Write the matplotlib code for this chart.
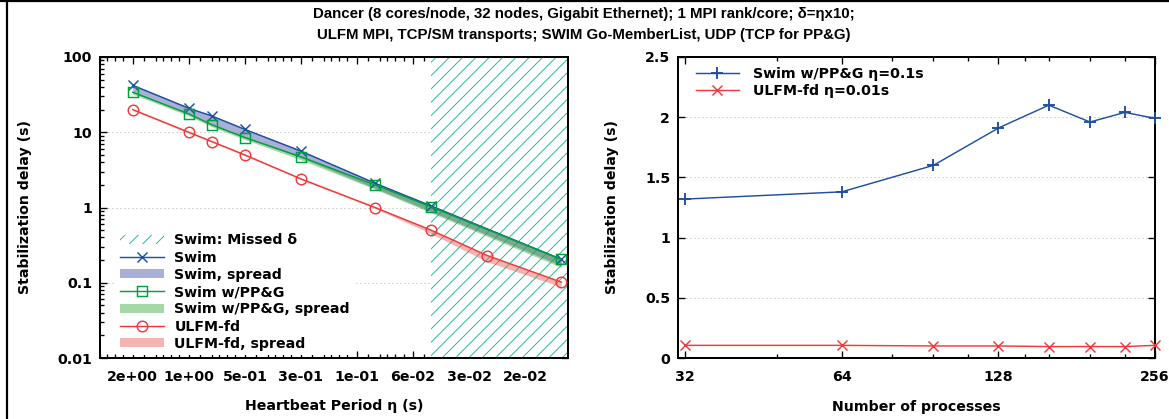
import matplotlib
matplotlib.use("Agg")
import matplotlib.pyplot as plt
from matplotlib.lines import Line2D
from matplotlib.patches import Patch
from matplotlib.ticker import FixedLocator, FuncFormatter, NullFormatter

# ---------------- data ----------------
title_line1 = "Dancer (8 cores/node, 32 nodes, Gigabit Ethernet); 1 MPI rank/core; δ=ηx10;"
title_line2 = "ULFM MPI, TCP/SM transports; SWIM Go-MemberList, UDP (TCP for PP&G)"

eta_swim = [2, 1, 0.75, 0.5, 0.25, 0.1, 0.05, 0.01]
swim = [42, 20.8, 16.4, 10.9, 5.6, 2.1, 1.05, 0.205]
swim_lo = [34, 17.5, 12.8, 8.6, 4.6, 1.8, 0.88, 0.17]
swim_hi = [43, 21.5, 16.8, 11.2, 5.8, 2.15, 1.07, 0.21]

ppg = [34, 17.5, 12.5, 8.5, 4.7, 2.0, 1.02, 0.205]
ppg_lo = [32, 16.5, 11.8, 8.0, 4.3, 1.75, 0.85, 0.16]
ppg_hi = [35, 18, 13, 8.8, 4.9, 2.05, 1.05, 0.21]

eta_ulfm = [2, 1, 0.75, 0.5, 0.25, 0.1, 0.05, 0.025, 0.01]
ulfm = [20, 10, 7.5, 5, 2.4, 1.0, 0.5, 0.23, 0.102]
ulfm_lo = [19.5, 9.7, 7.3, 4.85, 2.35, 0.97, 0.45, 0.19, 0.088]
ulfm_hi = [20.3, 10.2, 7.6, 5.05, 2.45, 1.02, 0.51, 0.235, 0.104]

missed_from = 0.05          # Swim misses delta for eta <= this
eta_ticks = [2, 1, 0.5, 0.25, 0.125, 0.0625, 0.03125, 0.015625]
eta_tick_labels = ["2e+00", "1e+00", "5e-01", "3e-01", "1e-01", "6e-02", "3e-02", "2e-02"]
delay_ticks = [0.01, 0.1, 1, 10, 100]

procs = [32, 64, 96, 128, 160, 192, 224, 256]
swim_ppg_p = [1.32, 1.38, 1.60, 1.91, 2.10, 1.96, 2.04, 1.99]
ulfm_p = [0.105, 0.105, 0.10, 0.10, 0.095, 0.095, 0.095, 0.105]
proc_ticks = [32, 64, 128, 256]
proc_minor = [48, 80, 96, 112, 144, 160, 192, 224]
delay_lin_ticks = [0, 0.5, 1, 1.5, 2, 2.5]

# ---------------- style ----------------
DPI = 80
W, H = 1169, 419
FS = 12.7
plt.rcParams['font.family'] = ['DejaVu Sans']
plt.rcParams['font.weight'] = 'bold'
plt.rcParams['font.size'] = FS
plt.rcParams['hatch.linewidth'] = 0.8

BLUE = '#1f4fa0'
GREEN = '#00a040'
RED = '#ee3a3a'
TEAL = '#1fb38a'
GRIDC = '#b0b0b0'

fig = plt.figure(figsize=(W / DPI, H / DPI), dpi=DPI)

def axes_px(l, r, t, b):
    return fig.add_axes([l / W, (H - b) / H, (r - l) / W, (b - t) / H])

ax1 = axes_px(100, 568, 57, 358)
ax2 = axes_px(678, 1155, 57, 358)

def style_axes(ax):
    for s in ax.spines.values():
        s.set_linewidth(1.8)
    ax.tick_params(which='both', direction='in', top=True, right=True, width=1.2, labelsize=FS)
    ax.tick_params(axis='y', pad=7)
    ax.tick_params(axis='x', pad=10.5)
    ax.tick_params(which='major', length=6.5)
    ax.tick_params(which='minor', length=3.5)
    ax.set_axisbelow(True)
    ax.yaxis.grid(True, which='major', linestyle=(0, (1, 3)), color=GRIDC, linewidth=0.9)

# ---------------- left panel ----------------
ax = ax1
ax.set_xscale('log', base=2)
ax.set_yscale('log')
xl = (3.0, 0.0092)
ax.set_xlim(*xl)
ax.set_ylim(0.01, 100)
style_axes(ax)

ax.axvspan(missed_from, xl[1], facecolor='white', edgecolor=TEAL, hatch='//', linewidth=0, zorder=1.5)

ax.fill_between(eta_swim, swim_lo, swim_hi, color='#5560b0', alpha=0.5, linewidth=0, zorder=2)
ax.fill_between(eta_swim, ppg_lo, ppg_hi, color='#3aa83a', alpha=0.45, linewidth=0, zorder=2)
ax.fill_between(eta_ulfm, ulfm_lo, ulfm_hi, color='#ee5555', alpha=0.45, linewidth=0, zorder=2)

ax.plot(eta_swim, swim, color=BLUE, lw=1.3, marker='x', ms=8.5, mew=1.3, zorder=3)
ax.plot(eta_swim, ppg, color=GREEN, lw=1.3, marker='s', ms=9, mfc='none', mew=1.3, zorder=3)
ax.plot(eta_ulfm, ulfm, color=RED, lw=1.3, marker='o', ms=9.5, mfc='none', mew=1.3, zorder=3)

ax.xaxis.set_major_locator(FixedLocator(eta_ticks))
ax.xaxis.set_major_formatter(FuncFormatter(lambda v, p: eta_tick_labels[eta_ticks.index(v)] if v in eta_ticks else ''))
minor_x = [t * f for t in eta_ticks + [4] for f in (0.5625, 0.625, 0.6875, 0.75, 0.875)]
ax.xaxis.set_minor_locator(FixedLocator(minor_x))
ax.xaxis.set_minor_formatter(NullFormatter())
ax.yaxis.set_major_locator(FixedLocator(delay_ticks))
ax.yaxis.set_major_formatter(FuncFormatter(lambda v, p: '%g' % v))

ax.set_xlabel('Heartbeat Period η (s)', fontsize=FS, fontweight='bold')
ax.xaxis.set_label_coords(0.5, -0.135)
ax.set_ylabel('Stabilization delay (s)', fontsize=FS, fontweight='bold')
ax.yaxis.set_label_coords(-(100 - 32) / 468, 0.5)

handles1 = [
    Patch(facecolor='white', edgecolor=TEAL, hatch='//', linewidth=0),
    Line2D([], [], color=BLUE, lw=1.3, marker='x', ms=8.5, mew=1.3),
    Patch(facecolor='#5560b0', alpha=0.5, linewidth=0),
    Line2D([], [], color=GREEN, lw=1.3, marker='s', ms=9, mfc='none', mew=1.3),
    Patch(facecolor='#3aa83a', alpha=0.45, linewidth=0),
    Line2D([], [], color=RED, lw=1.3, marker='o', ms=9.5, mfc='none', mew=1.3),
    Patch(facecolor='#ee5555', alpha=0.45, linewidth=0),
]
labels1 = ['Swim: Missed δ', 'Swim', 'Swim, spread', 'Swim w/PP&G', 'Swim w/PP&G, spread',
           'ULFM-fd', 'ULFM-fd, spread']
leg = ax.legend(handles1, labels1, loc='lower left', bbox_to_anchor=(0.034, 0.01),
                frameon=True, facecolor='white', edgecolor='none', framealpha=1,
                fancybox=False, handlelength=3.1, handleheight=0.6, handletextpad=0.75,
                labelspacing=0.23, borderpad=0.3, borderaxespad=0, fontsize=FS)
leg.set_zorder(5)

# ---------------- right panel ----------------
ax = ax2
ax.set_xscale('log', base=2)
ax.set_xlim(31.0, 256)
ax.set_ylim(0, 2.5)
style_axes(ax)
ax.plot(procs, swim_ppg_p, color=BLUE, lw=1.3, marker='+', ms=11, mew=1.7, clip_on=False, zorder=3,
        label='Swim w/PP&G η=0.1s')
ax.plot(procs, ulfm_p, color=RED, lw=1.3, marker='x', ms=9, mew=1.3, clip_on=False, zorder=3,
        label='ULFM-fd η=0.01s')
ax.xaxis.set_major_locator(FixedLocator(proc_ticks))
ax.xaxis.set_major_formatter(FuncFormatter(lambda v, p: '%d' % v))
ax.xaxis.set_minor_locator(FixedLocator(proc_minor))
ax.xaxis.set_minor_formatter(NullFormatter())
ax.yaxis.set_major_locator(FixedLocator(delay_lin_ticks))
ax.yaxis.set_major_formatter(FuncFormatter(lambda v, p: '%g' % v))
ax.set_xlabel('Number of processes', fontsize=FS, fontweight='bold')
ax.xaxis.set_label_coords(0.5, -0.14)
ax.set_ylabel('Stabilization delay (s)', fontsize=FS, fontweight='bold')
ax.yaxis.set_label_coords((619 - 678) / 477, 0.5)
ax.legend(loc='upper left', bbox_to_anchor=(0.025, 0.985), frameon=False, handlelength=3.1,
          handletextpad=0.95, labelspacing=0.23, borderaxespad=0, fontsize=FS)

# ---------------- title and frame ----------------
tfam = ['Liberation Sans Narrow', 'Liberation Sans', 'DejaVu Sans']
fig.text(584 / W, 1 - 14 / H, title_line1, ha='center', va='center', fontsize=13.5,
         fontweight='bold', family=tfam)
fig.text(584 / W, 1 - 35 / H, title_line2, ha='center', va='center', fontsize=13.5,
         fontweight='bold', family=tfam)
fig.add_artist(Line2D([7 / W, 7 / W], [0, 1], transform=fig.transFigure, color='k', lw=2))
fig.add_artist(Line2D([0, 1], [1 - 1 / H, 1 - 1 / H], transform=fig.transFigure, color='k', lw=2))

fig.savefig('out.png', dpi=DPI)
